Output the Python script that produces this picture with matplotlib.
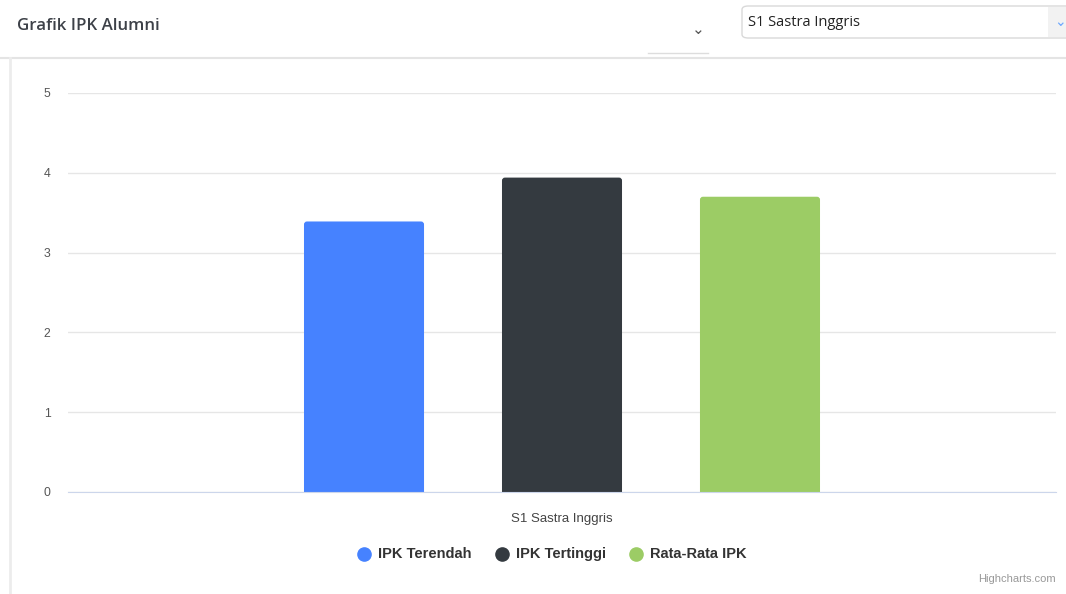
import matplotlib
matplotlib.use('Agg')
import matplotlib.pyplot as plt
from matplotlib.patches import FancyBboxPatch, Rectangle
from matplotlib.lines import Line2D

# ==========================================================
# DATA
# ==========================================================
category = 'S1 Sastra Inggris'
series_names = ['IPK Terendah', 'IPK Tertinggi', 'Rata-Rata IPK']
series_values = [3.39, 3.94, 3.70]
series_colors = ['#4682ff', '#343a40', '#9ccc65']
y_ticks = [0, 1, 2, 3, 4, 5]

W, H = 1066, 594
fig = plt.figure(figsize=(W / 100, H / 100), dpi=100)
fig.patch.set_facecolor('white')

def fx(px):
    return px / W

def fy(py):
    return 1 - py / H

# ==========================================================
# PAGE HEADER + CARD
# ==========================================================
fig.text(fx(17), fy(26), 'Grafik IPK Alumni', fontsize=12.2, color='#3d4148',
         family='Open Sans', weight='semibold', va='center', ha='left')
fig.text(fx(698), fy(29), '\u2304', fontsize=11, color='#555555',
         family='DejaVu Sans', va='center', ha='center')
fig.add_artist(Line2D([fx(648), fx(708)], [fy(53), fy(53)], color='#dddddd', lw=1))

# select box
fig.add_artist(FancyBboxPatch((fx(742), fy(38)), fx(330), fy(6) - fy(38),
                              boxstyle='round,pad=0,rounding_size=0.006',
                              fc='white', ec='#d9d9d9', lw=1))
fig.add_artist(Rectangle((fx(1048), fy(37)), fx(20), fy(7) - fy(37),
                         fc='#f2f2f2', ec='none'))
fig.text(fx(1060), fy(22), '\u2304', fontsize=10, color='#6ea8fe',
         family='DejaVu Sans', va='center', ha='center')
fig.text(fx(748), fy(22), category, fontsize=10.5, color='#222222',
         family='Open Sans', va='center', ha='left')

# card borders
fig.add_artist(Line2D([fx(0), fx(1066)], [fy(58), fy(58)], color='#e4e4e4', lw=1.5))
fig.add_artist(Line2D([fx(10), fx(10)], [fy(58), fy(594)], color='#ececec', lw=2))

# ==========================================================
# CHART
# ==========================================================
ax = fig.add_axes([fx(68), fy(492), fx(1056) - fx(68), fy(93) - fy(492)])
ax.set_facecolor('none')

bar_w = 0.1215
step = 0.2004
offsets = [-step, 0, step]
px_x = 1 / 988.0    # data units per pixel (x)
px_y = 5 / 399.0    # data units per pixel (y)
for name, val, col, off in zip(series_names, series_values, series_colors, offsets):
    bars = ax.bar(off, val, width=bar_w, color=col, label=name, zorder=3)
    # replace with rounded-top version
    r = bars[0]
    r.set_visible(False)
    x0, w = r.get_x(), r.get_width()
    ax.add_patch(FancyBboxPatch((x0, -0.2), w, val + 0.2,
                                boxstyle='round,pad=0,rounding_size=%f' % (3 * px_x),
                                mutation_aspect=px_y / px_x,
                                fc=col, ec='none', zorder=3))

ax.set_xlim(-0.5, 0.5)
ax.set_ylim(0, 5)
ax.set_yticks(y_ticks)
ax.set_yticklabels([str(t) for t in y_ticks], color='#555555', fontsize=8.8,
                   family='Liberation Sans')
ax.set_xticks([0])
ax.set_xticklabels([category], color='#444444', fontsize=9.5, family='Liberation Sans')
ax.tick_params(axis='x', length=0, pad=15)
ax.yaxis.grid(True, color='#e6e6e6', lw=1, zorder=0)
for s in ['top', 'right', 'left']:
    ax.spines[s].set_visible(False)
ax.spines['bottom'].set_color('#ccd6eb')
ax.spines['bottom'].set_zorder(4)
for lbl in ax.get_yticklabels():
    lbl.set_horizontalalignment('center')
ax.tick_params(axis='y', length=0, pad=15)

# legend
legend_x = [364, 502, 636]
for name, col, lx in zip(series_names, series_colors, legend_x):
    fig.add_artist(Line2D([fx(lx)], [fy(554)], marker='o', ms=9.5, color=col, ls='none'))
    fig.text(fx(lx + 14), fy(554), name, fontsize=10.5, color='#333333', weight='bold',
             family='Liberation Sans', va='center', ha='left')

fig.text(fx(1056), fy(579), 'Highcharts.com', fontsize=8, color='#999999',
         family='Liberation Sans', va='center', ha='right')

fig.savefig('out.png', dpi=100, facecolor='white')
